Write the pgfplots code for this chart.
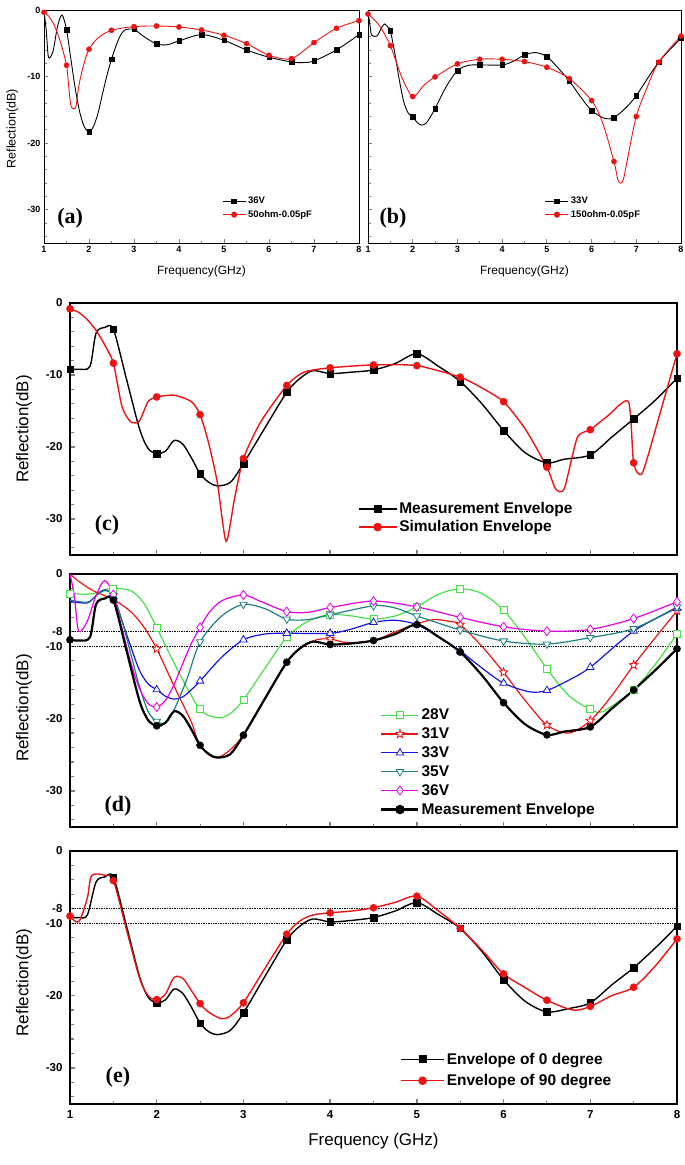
\documentclass[border=0pt]{standalone}
\usepackage{pgfplots}
\pgfplotsset{compat=1.18}
\usepackage{fontspec}
\setmainfont{Liberation Sans}
\newfontfamily\tnr{Liberation Serif}
\definecolor{myred}{RGB}{235,20,20}
\definecolor{mygreen}{RGB}{70,225,70}
\definecolor{myblue}{RGB}{20,20,220}
\definecolor{myteal}{RGB}{30,128,128}
\definecolor{mymag}{RGB}{230,0,230}
\pgfdeclareplotmark{ostar}{%
  \pgfpathmoveto{\pgfqpointpolar{90}{\pgfplotmarksize}}%
  \pgfpathlineto{\pgfqpointpolar{126}{0.42\pgfplotmarksize}}%
  \pgfpathlineto{\pgfqpointpolar{162}{\pgfplotmarksize}}%
  \pgfpathlineto{\pgfqpointpolar{198}{0.42\pgfplotmarksize}}%
  \pgfpathlineto{\pgfqpointpolar{234}{\pgfplotmarksize}}%
  \pgfpathlineto{\pgfqpointpolar{270}{0.42\pgfplotmarksize}}%
  \pgfpathlineto{\pgfqpointpolar{306}{\pgfplotmarksize}}%
  \pgfpathlineto{\pgfqpointpolar{342}{0.42\pgfplotmarksize}}%
  \pgfpathlineto{\pgfqpointpolar{18}{\pgfplotmarksize}}%
  \pgfpathlineto{\pgfqpointpolar{54}{0.42\pgfplotmarksize}}%
  \pgfpathclose
  \pgfusepathqfillstroke}
\pgfplotsset{
  common/.style={scale only axis, xmin=1, xmax=8, ymin=-35, ymax=0,
    tick align=inside, tick pos=left, xtick={1,2,...,8},
    minor xtick={1.5,2.5,...,7.5},
    /pgf/number format/assume math mode=true,
    legend cell align=left, clip=true},
  upper/.style={common, height=233pt,
    ytick={-30,-20,-10,0},
    minor ytick={-34,-32,-28,-26,-24,-22,-18,-16,-14,-12,-8,-6,-4,-2},
    axis line style={line width=0.9pt}, major tick style={line width=0.8pt}, minor tick style={line width=0.7pt},
    major tick length=4pt, minor tick length=2.5pt,
    ticklabel style={font=\bfseries\fontsize{9}{10}\selectfont},
    xlabel={Frequency(GHz)}, xlabel style={font=\fontsize{12}{13}\selectfont, at={(axis description cs:0.5,-0.12)}, anchor=center},
    legend style={draw=none, fill=none, font=\bfseries\fontsize{9.5}{10}\selectfont, inner sep=0pt, row sep=1pt},
    legend image code/.code={\draw[mark repeat=2,mark phase=2,##1] plot coordinates {(0pt,0pt) (11.5pt,0pt) (23pt,0pt)};}},
  lower/.style={common, width=607pt, height=253pt,
    axis line style={line width=1.6pt}, major tick style={line width=1.3pt}, minor tick style={line width=1.1pt},
    major tick length=5pt, minor tick length=3.5pt,
    ticklabel style={font=\bfseries\fontsize{11.5}{12}\selectfont},
    yticklabel style={xshift=-4pt}, xticklabel style={yshift=-3pt},
    ylabel={Reflection(dB)}, ylabel style={font=\fontsize{17}{18}\selectfont, anchor=center},
    legend style={draw=none, fill=none, font=\bfseries\fontsize{15.5}{16}\selectfont, inner sep=0pt}},
  ylow/.style={ytick={-30,-20,-10,0}, minor ytick={-34,-32,-28,-26,-24,-22,-18,-16,-14,-12,-8,-6,-4,-2}},
  ylow8/.style={ytick={-30,-20,-10,-8,0}, minor ytick={-34,-32,-28,-26,-24,-22,-18,-16,-14,-12,-6,-4,-2}},
}
\begin{document}
\begin{tikzpicture}
\useasboundingbox (0,0) rectangle (685pt,-1165pt);
% ---------------- (a)
\begin{axis}[upper, at={(44pt,-10pt)}, anchor=north west, width=315pt,
  ylabel={Reflection(dB)}, ylabel style={font=\fontsize{12.5}{13}\selectfont, at={(axis description cs:-0.10,0.49)}, anchor=center},
  legend style={at={(rel axis cs:0.565,0.15)}, anchor=west}]
\addlegendimage{black, line width=0.9pt, mark=square*, mark size=2.3pt}
\addlegendentry{36V}
\addlegendimage{myred, line width=0.9pt, mark=*, mark size=2.6pt}
\addlegendentry{50ohm-0.05pF}
\addplot[black, line width=0.9pt, smooth, tension=0.5, forget plot] coordinates {(1,-0.25) (1.05,-3) (1.1,-7.1) (1.2,-6.2) (1.3,-2.5) (1.4,-0.75) (1.5,-2.95) (1.6,-7.5) (1.7,-12) (1.8,-15.5) (1.9,-17.6) (2,-18.3) (2.1,-17.5) (2.2,-15.5) (2.3,-12.6) (2.4,-9.8) (2.5,-7.4) (2.6,-5.4) (2.7,-3.8) (2.8,-3.0) (3,-2.9) (3.2,-3.9) (3.5,-5.1) (3.75,-5.2) (4,-4.65) (4.5,-3.7) (5,-4.55) (5.5,-6.0) (6,-7.1) (6.5,-7.8) (6.75,-7.9) (7,-7.65) (7.5,-6.0) (8,-3.7)};
\addplot[black, only marks, mark=square*, mark size=2.3pt, forget plot] coordinates {(1.5,-2.95) (2,-18.3) (2.5,-7.4) (3,-2.9) (3.5,-5.1) (4,-4.65) (4.5,-3.7) (5,-4.55) (5.5,-6.0) (6,-7.1) (6.5,-7.8) (7,-7.65) (7.5,-6.0) (8,-3.7)};
\addplot[myred, line width=0.9pt, smooth, tension=0.5, forget plot] coordinates {(1,-0.35) (1.1,-0.9) (1.2,-1.9) (1.3,-3.5) (1.4,-5.6) (1.5,-8.3) (1.55,-11.5) (1.6,-14.4) (1.7,-14.75) (1.75,-12.5) (1.8,-10.5) (1.9,-7.8) (2,-5.9) (2.2,-4.2) (2.5,-3.05) (3,-2.5) (3.5,-2.4) (4,-2.55) (4.5,-3.0) (5,-3.8) (5.5,-5.05) (6,-6.8) (6.5,-7.3) (7,-4.9) (7.5,-2.75) (8,-1.6)};
\addplot[myred, only marks, mark=*, mark size=2.6pt, forget plot] coordinates {(1,-0.35) (1.5,-8.3) (2,-5.9) (2.5,-3.05) (3,-2.5) (3.5,-2.4) (4,-2.55) (4.5,-3.0) (5,-3.8) (5.5,-5.05) (6,-6.8) (6.5,-7.3) (7,-4.9) (7.5,-2.75) (8,-1.6)};
\node[font=\tnr\bfseries\fontsize{22}{22}\selectfont] at (rel axis cs:0.083,0.107) {(a)};
\end{axis}
% ---------------- (b)
\begin{axis}[upper, at={(368pt,-10pt)}, anchor=north west, width=313pt, yticklabels={},
  legend style={at={(rel axis cs:0.565,0.15)}, anchor=west}]
\addlegendimage{black, line width=0.9pt, mark=square*, mark size=2.3pt}
\addlegendentry{33V}
\addlegendimage{myred, line width=0.9pt, mark=*, mark size=2.6pt}
\addlegendentry{150ohm-0.05pF}
\addplot[black, line width=0.9pt, smooth, tension=0.5, forget plot] coordinates {(1,-0.25) (1.04,-2) (1.08,-3.75) (1.2,-3.9) (1.3,-2.7) (1.37,-2.1) (1.45,-2.6) (1.5,-3.1) (1.6,-6.5) (1.7,-10.5) (1.8,-13.8) (1.9,-15.5) (2,-16.0) (2.1,-16.9) (2.2,-17.3) (2.3,-17.0) (2.4,-16.0) (2.5,-14.8) (2.75,-11.5) (3,-9.1) (3.25,-8.3) (3.5,-8.25) (4,-8.25) (4.25,-7.7) (4.5,-6.75) (4.75,-6.4) (5,-7.0) (5.25,-8.7) (5.5,-10.65) (5.75,-13.0) (6,-15.1) (6.3,-16.3) (6.5,-16.15) (6.75,-14.8) (7,-12.85) (7.5,-7.85) (8,-4.25)};
\addplot[black, only marks, mark=square*, mark size=2.3pt, forget plot] coordinates {(1.5,-3.1) (2,-16.0) (2.5,-14.8) (3,-9.1) (3.5,-8.25) (4,-8.25) (4.5,-6.75) (5,-7.0) (5.5,-10.65) (6,-15.1) (6.5,-16.15) (7,-12.85) (7.5,-7.85) (8,-4.25)};
\addplot[myred, line width=0.9pt, smooth, tension=0.5, forget plot] coordinates {(1,-0.6) (1.25,-2.3) (1.5,-5.35) (1.75,-10) (2,-13.0) (2.25,-11.3) (2.5,-10.05) (3,-8.1) (3.5,-7.4) (4,-7.4) (4.5,-7.75) (5,-8.6) (5.5,-10.3) (6,-13.6) (6.25,-17.0) (6.5,-22.75) (6.6,-25.7) (6.7,-25.7) (6.8,-22.5) (7,-16.0) (7.25,-11.5) (7.5,-7.85) (8,-3.9)};
\addplot[myred, only marks, mark=*, mark size=2.6pt, forget plot] coordinates {(1,-0.6) (1.5,-5.35) (2,-13.0) (2.5,-10.05) (3,-8.1) (3.5,-7.4) (4,-7.4) (4.5,-7.75) (5,-8.6) (5.5,-10.3) (6,-13.6) (6.5,-22.75) (7,-16.0) (7.5,-7.85) (8,-3.9)};
\node[font=\tnr\bfseries\fontsize{22}{22}\selectfont] at (rel axis cs:0.08,0.107) {(b)};
\end{axis}
% ---------------- (c)
\begin{axis}[lower, ylow, at={(70pt,-303pt)}, anchor=north west, height=252pt, xticklabels={},
  ylabel style={at={(axis description cs:-0.076,0.5)}},
  legend style={at={(rel axis cs:0.474,0.147)}, anchor=west, row sep=1.5pt},
  legend image code/.code={\draw[mark repeat=2,mark phase=2,#1] plot coordinates {(0pt,0pt) (19pt,0pt) (38pt,0pt)};}]
\addlegendimage{black, line width=1.4pt, mark=square*, mark size=3.3pt}
\addlegendentry{Measurement Envelope}
\addlegendimage{myred, line width=1.4pt, mark=*, mark size=3.6pt}
\addlegendentry{Simulation Envelope}
\addplot[black, line width=1.4pt, smooth, tension=0.5, forget plot] coordinates {(1,-9.2) (1.1,-9.2) (1.23,-8.8) (1.3,-4.2) (1.4,-3.4) (1.5,-3.65) (1.65,-10.5) (1.8,-17.4) (1.9,-20.2) (2,-20.9) (2.1,-20.6) (2.2,-19.1) (2.3,-19.6) (2.4,-21.5) (2.5,-23.7) (2.6,-24.9) (2.7,-25.4) (2.85,-24.9) (3,-22.3) (3.25,-17.3) (3.5,-12.4) (3.65,-10.5) (3.8,-9.4) (4,-9.8) (4.25,-9.6) (4.5,-9.3) (4.75,-8.4) (5,-7.05) (5.25,-8.8) (5.5,-10.9) (5.75,-14.0) (6,-17.7) (6.25,-20.8) (6.5,-22.2) (6.7,-21.7) (7,-21.1) (7.25,-18.6) (7.5,-16.1) (7.75,-13.5) (8,-10.45)};
\addplot[black, only marks, mark=square*, mark size=3.3pt, forget plot] coordinates {(1,-9.2) (1.5,-3.65) (2,-20.9) (2.5,-23.7) (3,-22.3) (3.5,-12.4) (4,-9.8) (4.5,-9.3) (5,-7.05) (5.5,-10.9) (6,-17.7) (6.5,-22.2) (7,-21.1) (7.5,-16.1) (8,-10.45)};
\addplot[myred, line width=1.4pt, smooth, tension=0.4, forget plot] coordinates {(1,-0.8) (1.1,-1.3) (1.2,-2.3) (1.3,-3.8) (1.4,-5.8) (1.5,-8.35) (1.6,-14.4) (1.7,-16.5) (1.8,-16.4) (1.9,-13.7) (2,-13.05) (2.2,-12.8) (2.4,-13.7) (2.5,-15.5) (2.6,-19.5) (2.7,-25) (2.8,-33.1) (2.9,-27) (3,-21.6) (3.2,-16.5) (3.5,-11.45) (3.7,-9.6) (4,-9.0) (4.5,-8.6) (5,-8.7) (5.5,-10.3) (5.75,-11.8) (6,-13.7) (6.25,-17.5) (6.5,-22.8) (6.6,-25.8) (6.7,-25.8) (6.85,-18.7) (7,-17.6) (7.2,-15.7) (7.44,-13.7) (7.5,-22.2) (7.6,-23.6) (7.8,-15.5) (8,-7.05)};
\addplot[myred, only marks, mark=*, mark size=3.6pt, forget plot] coordinates {(1,-0.8) (1.5,-8.35) (2,-13.05) (2.5,-15.5) (3,-21.6) (3.5,-11.45) (4,-9.0) (4.5,-8.6) (5,-8.7) (5.5,-10.3) (6,-13.7) (6.5,-22.8) (7,-17.6) (7.5,-22.2) (8,-7.05)};
\node[font=\tnr\bfseries\fontsize{22}{22}\selectfont] at (rel axis cs:0.061,0.119) {(c)};
\end{axis}
% ---------------- (d)
\begin{axis}[lower, ylow8, at={(70pt,-574pt)}, anchor=north west, xticklabels={},
  ylabel style={at={(axis description cs:-0.076,0.47)}},
  legend style={at={(rel axis cs:0.511,0.255)}, anchor=west, row sep=2.5pt},
  legend image code/.code={\draw[mark repeat=2,mark phase=2,#1] plot coordinates {(0pt,0pt) (18.5pt,0pt) (37pt,0pt)};}]
\addlegendimage{mygreen, line width=1.2pt, mark=square*, mark size=3.5pt, mark options={fill=white, line width=0.8pt}}
\addlegendentry{28V}
\addlegendimage{myred, line width=1.2pt, mark=ostar, mark size=4.5pt, mark options={fill=white, line width=0.8pt}}
\addlegendentry{31V}
\addlegendimage{myblue, line width=1.2pt, mark=triangle*, mark size=4.3pt, mark options={fill=white, line width=0.8pt}}
\addlegendentry{33V}
\addlegendimage{myteal, line width=1.2pt, mark=triangle*, mark size=4.3pt, mark options={fill=white, line width=0.8pt, rotate=180}}
\addlegendentry{35V}
\addlegendimage{mymag, line width=1.2pt, mark=diamond*, mark size=4.5pt, mark options={fill=white, line width=0.8pt}}
\addlegendentry{36V}
\addlegendimage{black, line width=2.2pt, mark=*, mark size=3.6pt}
\addlegendentry{Measurement Envelope}
\addplot[black, densely dotted, line width=0.7pt, forget plot] coordinates {(1,-8) (8,-8)};
\addplot[black, densely dotted, line width=0.7pt, forget plot] coordinates {(1,-10) (8,-10)};
% 28V
\addplot[mygreen, line width=1.2pt, smooth, tension=0.5, forget plot] coordinates {(1,-2.7) (1.2,-2.8) (1.3,-2.6) (1.4,-2.2) (1.5,-2.0) (1.7,-2.3) (1.85,-4) (2,-7.4) (2.25,-13.5) (2.5,-18.7) (2.7,-19.9) (2.85,-19.3) (3,-17.4) (3.25,-13) (3.5,-8.75) (3.75,-6.5) (4,-5.6) (4.25,-5.8) (4.5,-6.25) (4.75,-5.8) (5,-4.55) (5.25,-2.8) (5.5,-2.05) (5.75,-2.7) (6,-5.0) (6.25,-8.8) (6.5,-13.1) (6.75,-16.8) (7,-18.7) (7.15,-19.0) (7.5,-16.0) (7.75,-12.5) (8,-8.3)};
\addplot[mygreen, only marks, mark=square*, mark size=3.5pt, mark options={fill=white, line width=0.8pt}, forget plot] coordinates {(1,-2.7) (1.5,-2.0) (2,-7.4) (2.5,-18.7) (3,-17.4) (3.5,-8.75) (4,-5.6) (4.5,-6.25) (5,-4.55) (5.5,-2.05) (6,-5.0) (6.5,-13.1) (7,-18.7) (7.5,-16.0) (8,-8.3)};
% 31V
\addplot[myred, line width=1.2pt, smooth, tension=0.5, forget plot] coordinates {(1,0) (1.1,-1.0) (1.25,-2.2) (1.4,-3.0) (1.5,-3.5) (1.7,-5.2) (1.85,-7.3) (2,-10.35) (2.2,-15.5) (2.4,-20.5) (2.5,-23.7) (2.7,-25.4) (3,-22.3) (3.5,-12.2) (3.8,-9.3) (4,-9.0) (4.2,-9.5) (4.5,-9.2) (4.75,-8.0) (5,-6.9) (5.2,-6.3) (5.4,-6.6) (5.5,-7.0) (5.75,-10) (6,-13.6) (6.25,-17.5) (6.5,-20.9) (6.75,-22.0) (7,-20.3) (7.25,-16.8) (7.5,-12.6) (7.75,-8.8) (8,-5.1)};
\addplot[myred, only marks, mark=ostar, mark size=4.5pt, mark options={fill=white, line width=0.8pt}, forget plot] coordinates {(2,-10.35) (4,-9.0) (5.5,-7.0) (6,-13.6) (6.5,-20.9) (7,-20.3) (7.5,-12.6) (8,-5.1)};
% 33V
\addplot[myblue, line width=1.2pt, smooth, tension=0.5, forget plot] coordinates {(1,-3.8) (1.2,-4.0) (1.3,-3.0) (1.4,-2.2) (1.5,-3.1) (1.6,-6.5) (1.7,-10.0) (1.8,-13.3) (1.9,-15.2) (2,-16.0) (2.1,-16.9) (2.2,-17.3) (2.3,-17.0) (2.4,-16.0) (2.5,-14.8) (2.75,-11.5) (3,-9.1) (3.25,-8.3) (3.5,-8.2) (4,-8.2) (4.25,-7.6) (4.5,-6.7) (4.75,-6.4) (5,-7.0) (5.25,-8.7) (5.5,-10.65) (5.75,-13.0) (6,-15.1) (6.3,-16.3) (6.5,-16.1) (6.75,-14.7) (7,-12.9) (7.5,-7.9) (8,-4.7)};
\addplot[myblue, only marks, mark=triangle*, mark size=4.3pt, mark options={fill=white, line width=0.8pt}, forget plot] coordinates {(1.5,-3.1) (2,-16.0) (2.5,-14.8) (3,-9.1) (3.5,-8.2) (4,-8.2) (4.5,-6.7) (5,-7.0) (5.5,-10.65) (6,-15.1) (6.5,-16.1) (7,-12.9) (7.5,-7.9) (8,-4.7)};
% 35V
\addplot[myteal, line width=1.2pt, smooth, tension=0.5, forget plot] coordinates {(1,-3.6) (1.2,-3.9) (1.3,-3.0) (1.4,-2.3) (1.5,-3.0) (1.6,-6.5) (1.7,-11) (1.8,-15.5) (1.9,-19) (2,-20.4) (2.1,-20.6) (2.2,-18.8) (2.35,-14.5) (2.5,-9.4) (2.75,-5.8) (3,-4.2) (3.25,-4.8) (3.5,-6.25) (3.75,-6.3) (4,-5.65) (4.5,-4.4) (4.75,-4.7) (5,-5.8) (5.5,-7.75) (6,-9.27) (6.5,-9.7) (7,-8.8) (7.5,-7.56) (8,-4.55)};
\addplot[myteal, only marks, mark=triangle*, mark size=4.3pt, mark options={fill=white, line width=0.8pt, rotate=180}, forget plot] coordinates {(1.5,-3.0) (2,-20.4) (2.5,-9.4) (3,-4.2) (3.5,-6.25) (4,-5.65) (4.5,-4.4) (5,-5.8) (5.5,-7.75) (6,-9.27) (6.5,-9.7) (7,-8.8) (7.5,-7.56) (8,-4.55)};
% 36V
\addplot[mymag, line width=1.2pt, smooth, tension=0.5, forget plot] coordinates {(1,0) (1.05,-3) (1.1,-7.9) (1.2,-6.5) (1.3,-3.0) (1.4,-0.9) (1.5,-2.85) (1.6,-7.5) (1.7,-12.2) (1.8,-15.8) (1.9,-17.9) (2,-18.4) (2.1,-17.5) (2.2,-15.3) (2.3,-12.4) (2.4,-9.6) (2.5,-7.4) (2.6,-5.4) (2.75,-3.7) (3,-2.9) (3.2,-3.8) (3.5,-5.2) (3.75,-5.3) (4,-4.65) (4.5,-3.75) (5,-4.55) (5.5,-6.0) (6,-7.3) (6.5,-7.9) (7,-7.67) (7.5,-6.16) (8,-3.85)};
\addplot[mymag, only marks, mark=diamond*, mark size=4.5pt, mark options={fill=white, line width=0.8pt}, forget plot] coordinates {(1.5,-2.85) (2,-18.4) (2.5,-7.4) (3,-2.9) (3.5,-5.2) (4,-4.65) (4.5,-3.75) (5,-4.55) (5.5,-6.0) (6,-7.3) (6.5,-7.9) (7,-7.67) (7.5,-6.16) (8,-3.85)};
% envelope
\addplot[black, line width=2.2pt, smooth, tension=0.5, forget plot] coordinates {(1,-9.1) (1.1,-9.2) (1.23,-8.75) (1.3,-4.2) (1.4,-3.4) (1.5,-3.6) (1.65,-10.5) (1.8,-17.5) (1.9,-20.2) (2,-21.0) (2.1,-20.6) (2.2,-19.0) (2.3,-19.6) (2.4,-21.5) (2.5,-23.7) (2.6,-24.9) (2.7,-25.4) (2.85,-24.9) (3,-22.3) (3.25,-17.2) (3.5,-12.2) (3.65,-10.3) (3.8,-9.35) (4,-9.75) (4.25,-9.6) (4.5,-9.2) (4.75,-8.3) (5,-7.0) (5.25,-8.7) (5.5,-10.8) (5.75,-14.0) (6,-17.8) (6.25,-20.8) (6.5,-22.25) (6.7,-21.8) (7,-21.15) (7.25,-18.6) (7.5,-16.05) (7.75,-13.3) (8,-10.35)};
\addplot[black, only marks, mark=*, mark size=3.6pt, forget plot] coordinates {(1,-9.1) (1.5,-3.6) (2,-21.0) (2.5,-23.7) (3,-22.3) (3.5,-12.2) (4,-9.75) (4.5,-9.2) (5,-7.0) (5.5,-10.8) (6,-17.8) (6.5,-22.25) (7,-21.15) (7.5,-16.05) (8,-10.35)};
\node[font=\tnr\bfseries\fontsize{22}{22}\selectfont] at (rel axis cs:0.079,0.083) {(d)};
\end{axis}
% ---------------- (e)
\begin{axis}[lower, ylow8, at={(70pt,-851pt)}, anchor=north west,
  ylabel style={at={(axis description cs:-0.076,0.48)}},
  xlabel={Frequency (GHz)}, xlabel style={font=\fontsize{17}{18}\selectfont, at={(axis description cs:0.5,-0.146)}, anchor=center},
  legend style={at={(rel axis cs:0.544,0.134)}, anchor=west, row sep=4.5pt},
  legend image code/.code={\draw[mark repeat=2,mark phase=2,#1] plot coordinates {(0pt,0pt) (21.5pt,0pt) (43pt,0pt)};}]
\addlegendimage{black, line width=1.4pt, mark=square*, mark size=3.3pt}
\addlegendentry{Envelope of 0 degree}
\addlegendimage{myred, line width=1.4pt, mark=*, mark size=3.6pt}
\addlegendentry{Envelope of 90 degree}
\addplot[black, densely dotted, line width=0.7pt, forget plot] coordinates {(1,-8) (8,-8)};
\addplot[black, densely dotted, line width=0.7pt, forget plot] coordinates {(1,-10) (8,-10)};
\addplot[black, line width=1.4pt, smooth, tension=0.5, forget plot] coordinates {(1,-9.2) (1.1,-9.2) (1.2,-8.85) (1.3,-4.3) (1.4,-3.6) (1.5,-3.6) (1.65,-10.3) (1.8,-17.3) (1.9,-20.2) (2,-21.0) (2.1,-20.6) (2.2,-19.1) (2.3,-19.7) (2.4,-21.6) (2.5,-23.8) (2.6,-25.0) (2.7,-25.4) (2.85,-24.8) (3,-22.4) (3.25,-17.3) (3.5,-12.3) (3.65,-10.4) (3.8,-9.4) (4,-9.8) (4.25,-9.6) (4.5,-9.2) (4.75,-8.3) (5,-7.15) (5.25,-8.8) (5.5,-10.7) (5.75,-13.9) (6,-17.8) (6.25,-20.8) (6.5,-22.25) (6.75,-21.8) (7,-21.0) (7.25,-18.5) (7.5,-16.15) (7.75,-13.4) (8,-10.4)};
\addplot[black, only marks, mark=square*, mark size=3.3pt, forget plot] coordinates {(1.5,-3.6) (2,-21.0) (2.5,-23.8) (3,-22.4) (3.5,-12.3) (4,-9.8) (4.5,-9.2) (5,-7.15) (5.5,-10.7) (6,-17.8) (6.5,-22.25) (7,-21.0) (7.5,-16.15) (8,-10.4)};
\addplot[myred, line width=1.4pt, smooth, tension=0.5, forget plot] coordinates {(1,-9.0) (1.1,-9.8) (1.2,-6.5) (1.25,-3.4) (1.4,-3.35) (1.5,-4.1) (1.65,-10.8) (1.8,-17.5) (1.9,-20.0) (2,-20.55) (2.1,-19.8) (2.2,-17.5) (2.3,-17.6) (2.4,-19.3) (2.5,-21.1) (2.6,-22.3) (2.75,-23.2) (2.85,-22.8) (3,-21.0) (3.25,-16.2) (3.5,-11.5) (3.65,-9.7) (3.8,-8.85) (4,-8.55) (4.25,-8.3) (4.5,-7.85) (4.75,-7.1) (5,-6.25) (5.25,-8.3) (5.5,-10.7) (5.75,-13.7) (6,-17.0) (6.25,-18.9) (6.5,-20.65) (6.8,-22.0) (7,-21.5) (7.25,-20.0) (7.5,-18.85) (7.75,-15.9) (8,-12.15)};
\addplot[myred, only marks, mark=*, mark size=3.6pt, forget plot] coordinates {(1,-9.0) (1.5,-4.1) (2,-20.55) (2.5,-21.1) (3,-21.0) (3.5,-11.5) (4,-8.55) (4.5,-7.85) (5,-6.25) (5.5,-10.7) (6,-17.0) (6.5,-20.65) (7,-21.5) (7.5,-18.85) (8,-12.15)};
\node[font=\tnr\bfseries\fontsize{22}{22}\selectfont] at (rel axis cs:0.079,0.107) {(e)};
\end{axis}
\end{tikzpicture}
\end{document}
